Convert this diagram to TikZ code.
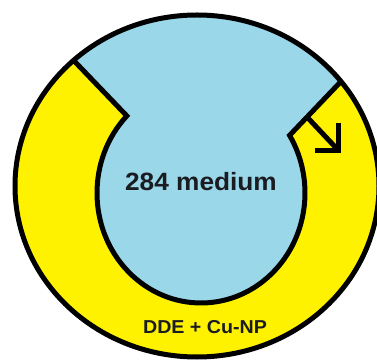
\documentclass[tikz,border=0pt]{standalone}
\usepackage{fontspec}
\setmainfont{Liberation Sans}
\usetikzlibrary{calc}
\definecolor{ringyellow}{RGB}{255,242,0}
\definecolor{mediumblue}{RGB}{153,215,233}
\definecolor{inktext}{RGB}{26,28,34}
\begin{document}
\begin{tikzpicture}[x=1pt,y=1pt,
    outline/.style={draw=black, line width=5pt, line join=miter},
    arrowline/.style={draw=black, line width=5pt, line join=miter},
    txt/.style={text=inktext, inner sep=0pt}]
  \useasboundingbox (0,0) rectangle (377,361);
  \clip (0,0) rectangle (377,361);

  % corners where the notch meets the inner and outer rims
  \coordinate (iL) at (126.82,245.10);
  \coordinate (iR) at (289.58,225.64);
  \coordinate (oR) at (341.00,279.57);
  \coordinate (oL) at (73.57,300.67);

  % yellow ring (dish)
  \fill[ringyellow] (197,175) ellipse [x radius=182, y radius=171];

  % blue medium with its notch opening to the rim
  \fill[mediumblue]
    (oL) -- (iL)
    arc[start angle=135.5, end angle=391.6, x radius=104, y radius=110]
    -- (oR)
    arc[start angle=37.7, end angle=132.7, x radius=182, y radius=171]
    -- cycle;

  % notch walls and inner rim, kept inside the dish
  \begin{scope}
    \clip (197,175) ellipse [x radius=182, y radius=171];
    \draw[outline]
      ($(iL)!1.15!(oL)$) -- (iL)
      arc[start angle=135.5, end angle=391.6, x radius=104, y radius=110]
      -- ($(iR)!1.15!(oR)$);
  \end{scope}

  % dish rim
  \draw[outline] (197,175) ellipse [x radius=182, y radius=171];

  % arrow from the notch wall
  \coordinate (arrowstart) at ($(iR)!0.34!(oR)$);
  \coordinate (arrowtip) at (338.5,210.5);
  \draw[arrowline] (arrowstart) -- (arrowtip);
  \draw[arrowline] ($(arrowtip)+(0,27)$) -- (arrowtip) -- ($(arrowtip)+(-24,0)$);

  % labels
  \node[txt, font=\fontsize{25}{25}\selectfont\bfseries, xscale=1.05] (medium) at (201,179) {284 medium};
  \node[txt, font=\fontsize{18.7}{18.7}\selectfont\bfseries, xscale=1.05] (ring) at (205,33.5) {DDE + Cu-NP};
\end{tikzpicture}
\end{document}
